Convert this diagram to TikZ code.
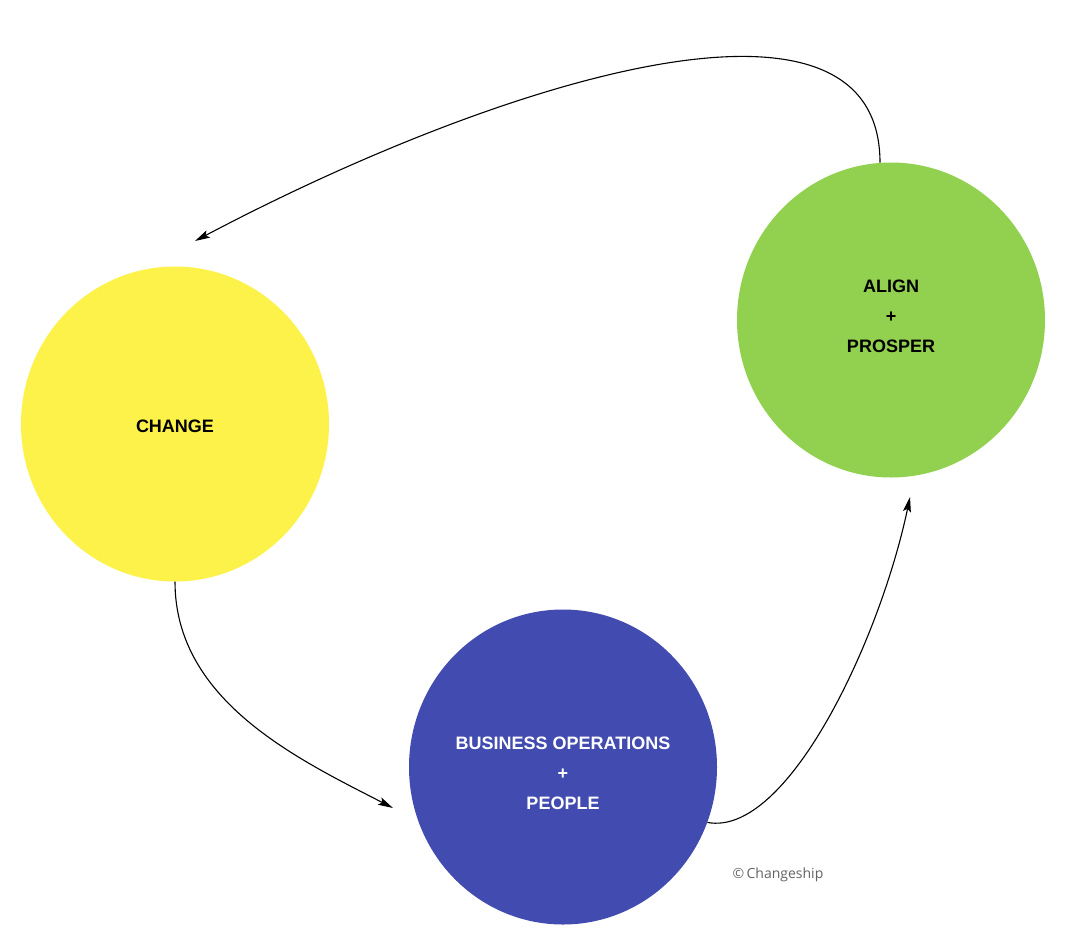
\documentclass[tikz,border=0pt]{standalone}
\usepackage{fontspec}
\setmainfont{Liberation Sans}
\newfontfamily\credfont{Open Sans}
\usetikzlibrary{shapes.geometric,arrows.meta}
\definecolor{cyellow}{RGB}{253,242,74}
\definecolor{cgreen}{RGB}{146,209,80}
\definecolor{cblue}{RGB}{66,75,176}
\definecolor{cgray}{RGB}{100,100,100}
\tikzset{
  blob/.style={ellipse, minimum width=308pt, minimum height=315pt, inner sep=0pt, draw=none},
  lbl/.style={font=\fontsize{18}{30}\selectfont\bfseries, align=center, inner sep=0pt},
  flow/.style={line width=1.1pt, -{Stealth[length=15pt,width=8pt,inset=3pt]}}
}
\begin{document}
\begin{tikzpicture}[x=1pt,y=-1pt]
\path[fill=white,use as bounding box] (0,0) rectangle (1068,935);
\node[blob, fill=cyellow] (change) at (175,424) {};
\node[blob, fill=cgreen] (align) at (891,320) {};
\node[blob, fill=cblue] (bus) at (563,767) {};
\node[lbl] (changet) at (175,426) {CHANGE};
\node[lbl] (alignt) at (891,316) {ALIGN\\+\\PROSPER};
\node[lbl, text=white] (bust) at (563,773) {BUSINESS OPERATIONS\\+\\PEOPLE};
\node[font=\credfont\fontsize{14}{16}\selectfont, text=cgray] (cred) at (778,875) {\textcopyright\,Changeship};
\coordinate (e1) at (195,241);
\coordinate (e2) at (393,808);
\coordinate (e3) at (910,497);
\draw[flow] (align.94) .. controls +(0,-201) and (500,80) .. (e1);
\draw[flow] (change.south) .. controls +(0,120) and (300,760) .. (e2);
\draw[flow] (bus.-21) .. controls +(80,15) and (880,640) .. (e3);
\end{tikzpicture}
\end{document}
